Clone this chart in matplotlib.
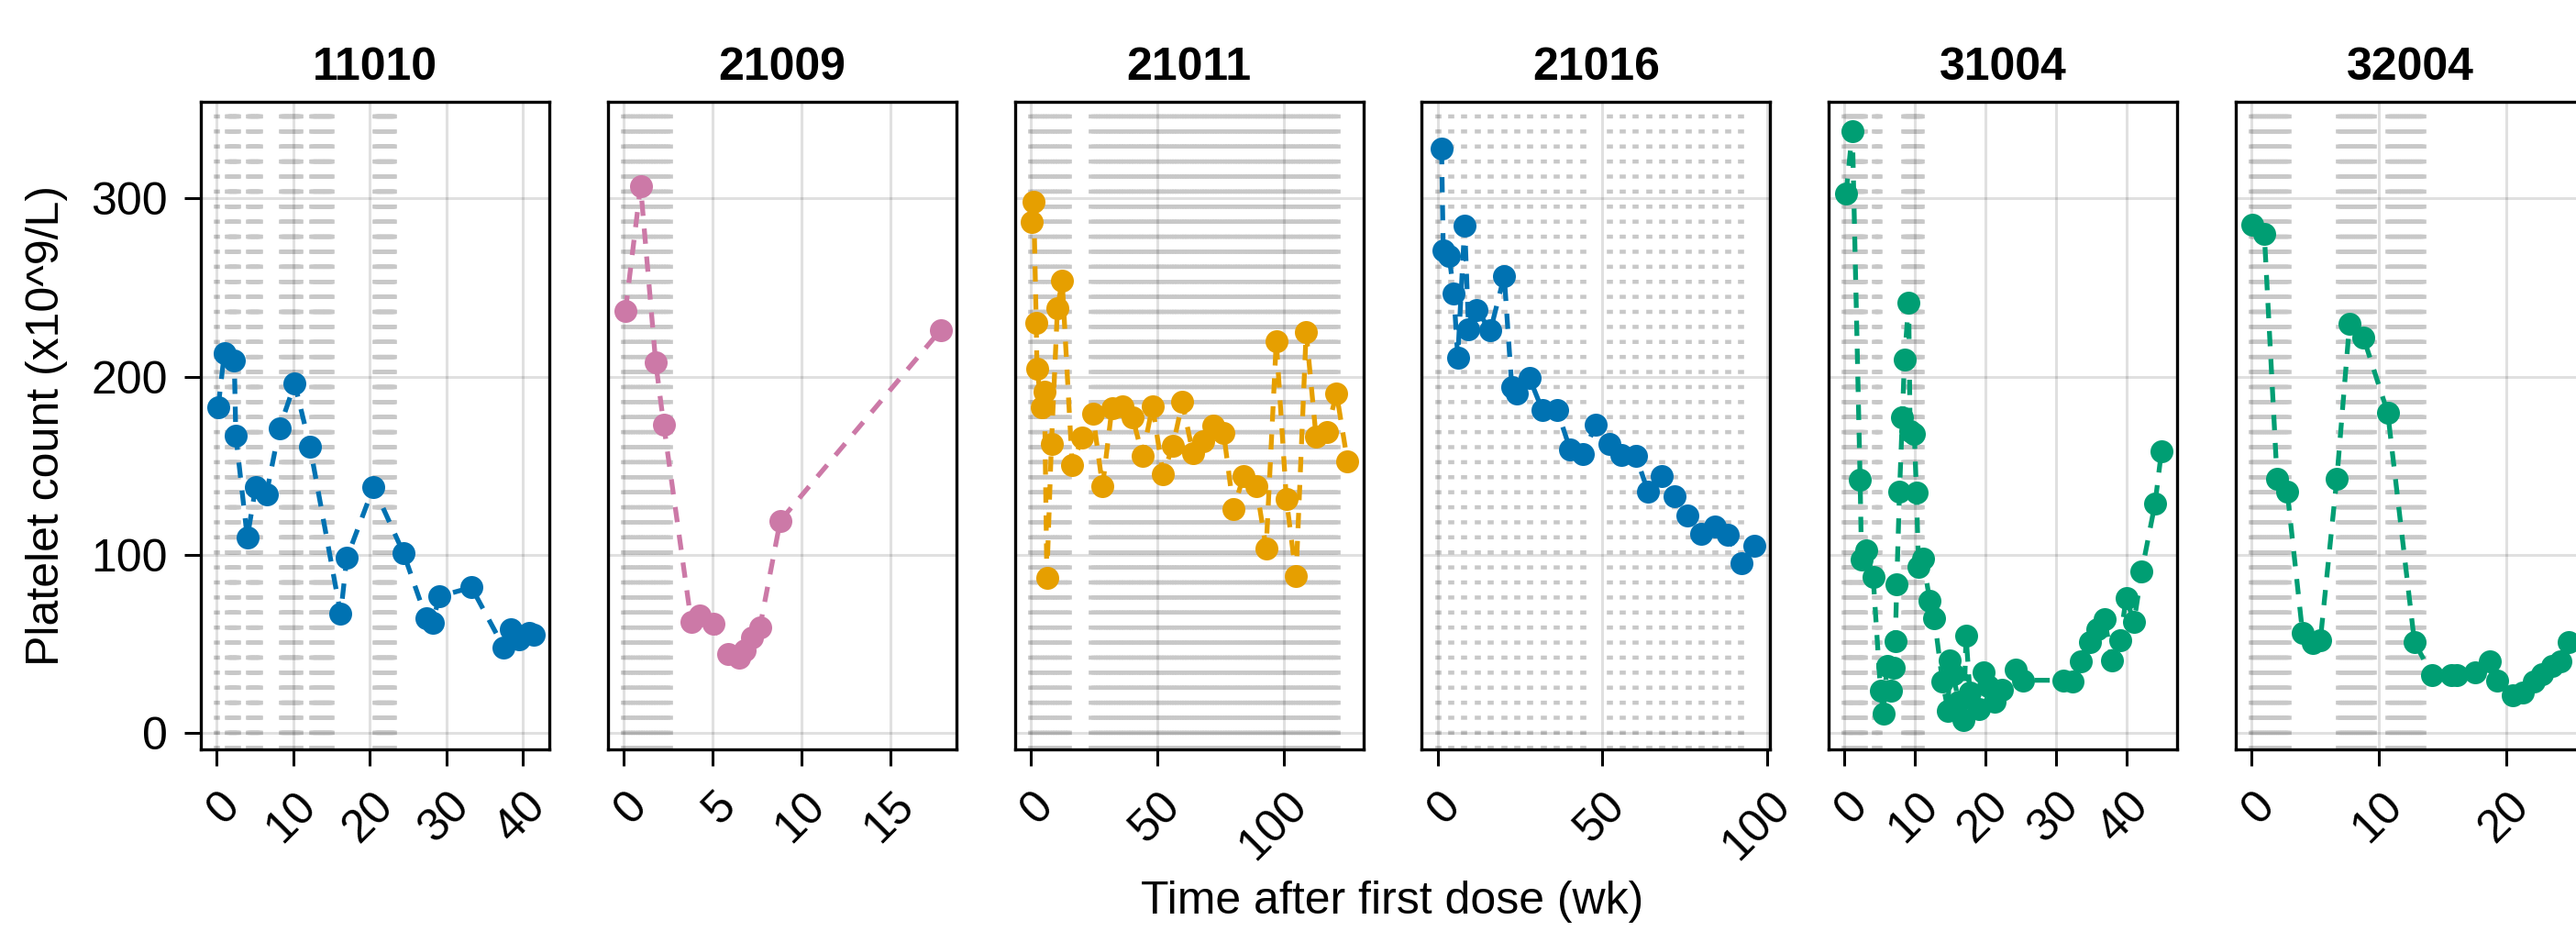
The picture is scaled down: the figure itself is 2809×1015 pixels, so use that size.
"""Numération plaquettaire par patient, avec les prises du traitement en fond.

Une colonne par patient : courbe pointillée des plaquettes, et une ligne
verticale grise pointillée pour chaque prise (les prises rapprochées forment
des bandes).
"""
import matplotlib
matplotlib.use("Agg")
import matplotlib.pyplot as plt
from matplotlib.collections import LineCollection
from matplotlib.transforms import ScaledTranslation, blended_transform_factory

# ---------------------------------------------------------------------------
# Données (temps en semaines, plaquettes en x10^9/L)
# ---------------------------------------------------------------------------
PATIENTS = ["11010", "21009", "21011", "21016", "31004", "32004"]

T_11010 = [0.2, 1.0, 2.3, 2.5, 4.0, 5.1, 6.5, 8.2, 10.2, 12.2, 16.2, 17.0,
           20.5, 24.4, 27.4, 28.2, 29.1, 33.3, 37.5, 38.4, 39.5, 40.8, 41.4]
PLT_11010 = [183, 213, 209, 167, 109.5, 138, 134, 171, 196, 160.6, 66.6, 98,
             138, 101, 64, 61.5, 76.5, 81.6, 48, 58, 52.6, 56, 55]

T_21009 = [0.1, 0.95, 1.8, 2.25, 3.8, 4.25, 5.05, 5.85, 6.5, 6.8, 7.2, 7.65,
           8.8, 17.8]
PLT_21009 = [237, 307, 208, 173, 62, 66, 61, 44, 42, 46, 53.5, 59, 119, 226]

T_21011 = [0.4, 1.2, 2.2, 2.5, 4.4, 5.45, 6.4, 8.2, 10.6, 12.45, 16.4, 20.3,
           24.5, 28.4, 32.1, 36.2, 40.2, 44.2, 48.1, 52.3, 56.2, 59.9, 64.0,
           68.0, 72.0, 76.2, 80.1, 84.1, 89.1, 93.0, 97.0, 101.0, 104.8,
           108.8, 112.7, 116.9, 120.8, 125.1]
PLT_21011 = [286.9, 298, 230, 204.2, 182.7, 191.3, 87.1, 162, 238.6, 253.8,
             150.3, 165.5, 179.2, 138.4, 182.2, 183.5, 177.2, 155.5, 183.5,
             145.1, 161.2, 185.6, 157.2, 163.7, 172.7, 168.4, 125.4, 144.3,
             138.3, 103.5, 220, 131, 88, 225.2, 166.3, 168.9, 190.4, 152.5]

T_21016 = [1.2, 1.7, 3.5, 4.9, 6.1, 8.2, 9.4, 11.9, 16.0, 20.2, 22.5, 24.1,
           27.9, 31.8, 36.3, 40.2, 44.1, 48.0, 52.0, 55.8, 60.1, 63.8, 68.0,
           71.9, 75.7, 79.8, 84.0, 87.9, 92.1, 96.1]
PLT_21016 = [327.8, 271, 267.6, 246.8, 210.7, 285, 226.4, 237.5, 225.8, 256.5,
             194, 190.6, 199, 181, 181, 159, 156.5, 173, 162, 156, 155.5,
             135.5, 144, 132.8, 122, 111.4, 116, 111, 95.3, 104.7]

T_31004 = [0.2, 1.1, 2.2, 2.4, 3.0, 4.05, 5.1, 5.5, 6.0, 6.6, 7.0, 7.2, 7.4,
           7.8, 8.2, 8.5, 9.1, 9.3, 9.9, 10.2, 10.5, 11.1, 12.1, 12.75, 13.9,
           14.7, 14.9, 15.4, 16.2, 16.9, 17.25, 17.8, 19.1, 19.7, 20.4, 21.3,
           22.4, 24.3, 25.4, 31.1, 32.4, 33.5, 34.8, 35.9, 36.9, 38.0, 39.1,
           40.0, 41.1, 42.2, 44.1, 45.0]
PLT_31004 = [302.7, 337.8, 142, 97, 102.6, 87.5, 23.4, 10.8, 37.2, 23.4, 36.3,
             51.5, 83.2, 135.5, 177, 209.7, 241.5, 169.6, 168, 134.8, 93, 97.8,
             74.2, 64.2, 28.6, 12.2, 40.6, 32.9, 17.4, 7.1, 54.4, 22.6, 13.1,
             33.7, 26, 17.4, 24.3, 35.5, 29.4, 29.4, 28.6, 40.1, 51, 57.9,
             63.9, 40.6, 51.8, 75.6, 62.1, 90.5, 128.8, 157.9]

T_32004 = [0.07, 1.0, 2.0, 2.8, 4.0, 4.8, 5.4, 6.7, 7.7, 8.8, 10.7, 12.8,
           14.2, 15.7, 16.1, 17.6, 18.7, 19.3, 20.5, 21.3, 22.2, 22.8, 23.6,
           24.3, 24.9]
PLT_32004 = [285.3, 280, 142.8, 135.5, 56.2, 50.2, 51.8, 142.8, 229.8, 221.7,
             179.6, 50.8, 32.2, 32.2, 32.2, 33.7, 39.8, 29.4, 21.2, 22.5, 28.6,
             33, 37.5, 39.8, 51]

# Schémas de prise : (premier jour, dernier jour, intervalle en jours)
DOSES_11010 = [(0, 0, 1), (10, 19, 1), (29, 39, 1), (59, 76, 1), (87, 105, 1),
               (145, 162, 1)]
DOSES_21009 = [(0, 18, 1)]
DOSES_21011 = [(0, 105, 7), (168, 847, 7)]
DOSES_21016 = [(0, 308, 28), (364, 644, 28)]
DOSES_31004 = [(0, 20, 1), (30, 34, 1), (59, 76, 1)]
DOSES_32004 = [(0, 20, 1), (48, 67, 1), (75, 94, 1)]

XTICKS = [[0, 10, 20, 30, 40], [0, 5, 10, 15], [0, 50, 100], [0, 50, 100],
          [0, 10, 20, 30, 40], [0, 10, 20, 30]]
YTICKS = [0, 100, 200, 300]

COLORS = ["#0072B2", "#CC79A7", "#E69F00", "#0072B2", "#009E73", "#009E73"]

# ---------------------------------------------------------------------------
# Mise en page (pixels de l'image finale)
# ---------------------------------------------------------------------------
W, H, DPI = 2809, 1015, 100
AX_LEFT, AX_PITCH, AX_W = 219, 443.8, 380
AX_TOP, AX_BOTTOM = 111, 817
FS = 36

plt.rcParams["font.family"] = ["Liberation Sans", "DejaVu Sans"]
plt.rcParams["lines.scale_dashes"] = False   # motifs de tirets en points absolus


def dose_weeks(regimen):
    """Développe un schéma de prise en liste de temps (semaines)."""
    weeks = []
    for first, last, every in regimen:
        weeks.extend(d / 7 for d in range(first, last + 1, every))
    return weeks


panels = [
    (T_11010, PLT_11010, DOSES_11010),
    (T_21009, PLT_21009, DOSES_21009),
    (T_21011, PLT_21011, DOSES_21011),
    (T_21016, PLT_21016, DOSES_21016),
    (T_31004, PLT_31004, DOSES_31004),
    (T_32004, PLT_32004, DOSES_32004),
]

all_plt = [v for _, vals, _ in panels for v in vals]
y_pad = 0.05 * (max(all_plt) - min(all_plt))
y_lim = (min(all_plt) - y_pad, max(all_plt) + y_pad)

fig = plt.figure(figsize=(W / DPI, H / DPI), dpi=DPI)
fig.patch.set_facecolor("white")

for i, (t, vals, regimen) in enumerate(panels):
    left = AX_LEFT + i * AX_PITCH
    ax = fig.add_axes([left / W, (H - AX_BOTTOM) / H, AX_W / W,
                       (AX_BOTTOM - AX_TOP) / H])
    ax.set_axisbelow(True)

    # prises : lignes verticales sur toute la hauteur, tirets partant du bas
    weeks = dose_weeks(regimen)
    segs = [[(x, 0), (x, 1)] for x in weeks]
    lc = LineCollection(segs, colors="#c8c8c8", linewidths=4.8,
                        linestyles=[(0, (3.2, 8.6))],
                        transform=ax.get_xaxis_transform(), zorder=0.3)
    ax.add_collection(lc, autolim=False)

    ax.plot(t, vals, linestyle=(0, (12, 10)), linewidth=3.8, color=COLORS[i],
            marker="o", markersize=18, markeredgewidth=0, zorder=2)

    xs = list(t) + weeks
    x_pad = 0.05 * (max(xs) - min(xs))
    x_lim = (min(xs) - x_pad, max(xs) + x_pad)
    ax.set_xlim(*x_lim)
    ax.set_ylim(*y_lim)

    ax.grid(True, color="black", alpha=0.12, linewidth=2.2)
    for sp in ax.spines.values():
        sp.set_linewidth(2.4)

    ticks = [v for v in XTICKS[i] if x_lim[0] <= v <= x_lim[1]]
    ax.set_xticks(ticks)
    ax.set_yticks(YTICKS)
    ax.tick_params(axis="x", direction="out", length=13, width=2.2,
                   labelbottom=False)
    if i == 0:
        ax.tick_params(axis="y", direction="out", length=13, width=2.2,
                       labelsize=FS, pad=13)
    else:
        ax.tick_params(axis="y", left=False, labelleft=False)

    # étiquettes x inclinées à 45°, ancrées par leur extrémité droite
    trans = blended_transform_factory(ax.transData, ax.transAxes) + \
        ScaledTranslation(18 / DPI, -54 / DPI, fig.dpi_scale_trans)
    for v in ticks:
        ax.text(v, 0, str(v), transform=trans, rotation=45, ha="right",
                va="center", rotation_mode="anchor", fontsize=FS)

    ax.set_title(PATIENTS[i], fontsize=FS, fontweight="bold", pad=17)

fig.text(51 / W, 1 - 464 / H, "Platelet count (x10^9/L)", rotation=90,
         ha="center", va="center", fontsize=FS)
fig.text((AX_LEFT + 5 * AX_PITCH + AX_W + AX_LEFT) / 2 / W, 1 - 996 / H,
         "Time after first dose (wk)", ha="center", va="baseline", fontsize=FS)

fig.savefig("out.png", dpi=DPI, facecolor="white")
